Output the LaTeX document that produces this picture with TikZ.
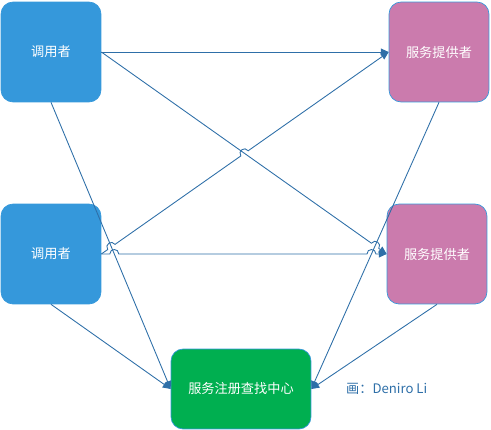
\documentclass[tikz,border=0pt]{standalone}
\usepackage{fontspec}
\setmainfont{Noto Sans CJK SC}
\usetikzlibrary{arrows.meta, calc, intersections}

\definecolor{callerblue}{HTML}{3598DB}
\definecolor{providerpink}{HTML}{CB7BAD}
\definecolor{registrygreen}{HTML}{00AF50}
\definecolor{linkblue}{HTML}{2E6FA8}

\tikzset{
  box/.style = {draw = callerblue, rounded corners = 0.24cm, text = white,
                font = \fontsize{7.5}{9}\selectfont, inner sep = 0pt},
  caller/.style   = {box, fill = callerblue, minimum width = 2cm, minimum height = 2cm},
  provider/.style = {box, fill = providerpink, minimum width = 2cm, minimum height = 2cm},
  registry/.style = {box, fill = registrygreen, minimum width = 2.8cm, minimum height = 1.6cm},
  link/.style = {draw = linkblue, line width = 0.5pt,
                 -{Triangle[length = 4.5pt, width = 4pt]}}
}

% a small jump of a link over another one, at crossing #1, going from #2 to #3
\newcommand{\hopr}{0.09cm}
\newcommand{\hopon}[3]{-- ($(#1)!\hopr!(#2)$) to[bend left = 90, looseness = 1.7] ($(#1)!\hopr!(#3)$)}

\begin{document}
\begin{tikzpicture}[x = 0.02cm, y = -0.02cm]

\useasboundingbox (0, 0) rectangle (491, 430);

\node[caller]   (callerA)   at (51, 52)   {调用者};
\node[caller]   (callerB)   at (51, 254)  {调用者};
\node[provider] (providerA) at (439, 52)  {服务提供者};
\node[provider] (providerB) at (437, 254) {服务提供者};
\node[registry] (registry)  at (241, 389) {服务注册查找中心};

\node[text = linkblue, font = \fontsize{7.5}{9}\selectfont, anchor = west] (author) at (340, 389) {画：Deniro Li};

% where the links cross
\path[name path = aSouth] (callerA.south)   -- (registry.west);
\path[name path = pSouth] (providerA.south) -- (registry.east);
\path[name path = aDiag]  (callerA.east)    -- (providerB.west);
\path[name path = bDiag]  (callerB.east)    -- (providerA.west);
\path[name path = bFlat]  (callerB.east)    -- (providerB.west);

\path[name intersections = {of = aDiag and bDiag,  by = crossMid}];
\path[name intersections = {of = aSouth and bDiag, by = crossLeftDiag}];
\path[name intersections = {of = aSouth and bFlat, by = crossLeftFlat}];
\path[name intersections = {of = pSouth and aDiag, by = crossRightDiag}];
\path[name intersections = {of = pSouth and bFlat, by = crossRightFlat}];

% callers to providers
\draw[link] (callerA.east) -- (providerA.west);
\draw[link] (callerA.east)
  \hopon{crossRightDiag}{callerA.east}{providerB.west} -- (providerB.west);
\draw[link] (callerB.east)
  \hopon{crossLeftDiag}{callerB.east}{providerA.west}
  \hopon{crossMid}{callerB.east}{providerA.west} -- (providerA.west);
\draw[link] (callerB.east)
  \hopon{crossLeftFlat}{callerB.east}{providerB.west}
  \hopon{crossRightFlat}{callerB.east}{providerB.west} -- (providerB.west);

% everybody to the registry
\draw[link] (callerA.south)   -- (registry.west);
\draw[link] (callerB.south)   -- (registry.west);
\draw[link] (providerA.south) -- (registry.east);
\draw[link] (providerB.south) -- (registry.east);

\end{tikzpicture}
\end{document}
